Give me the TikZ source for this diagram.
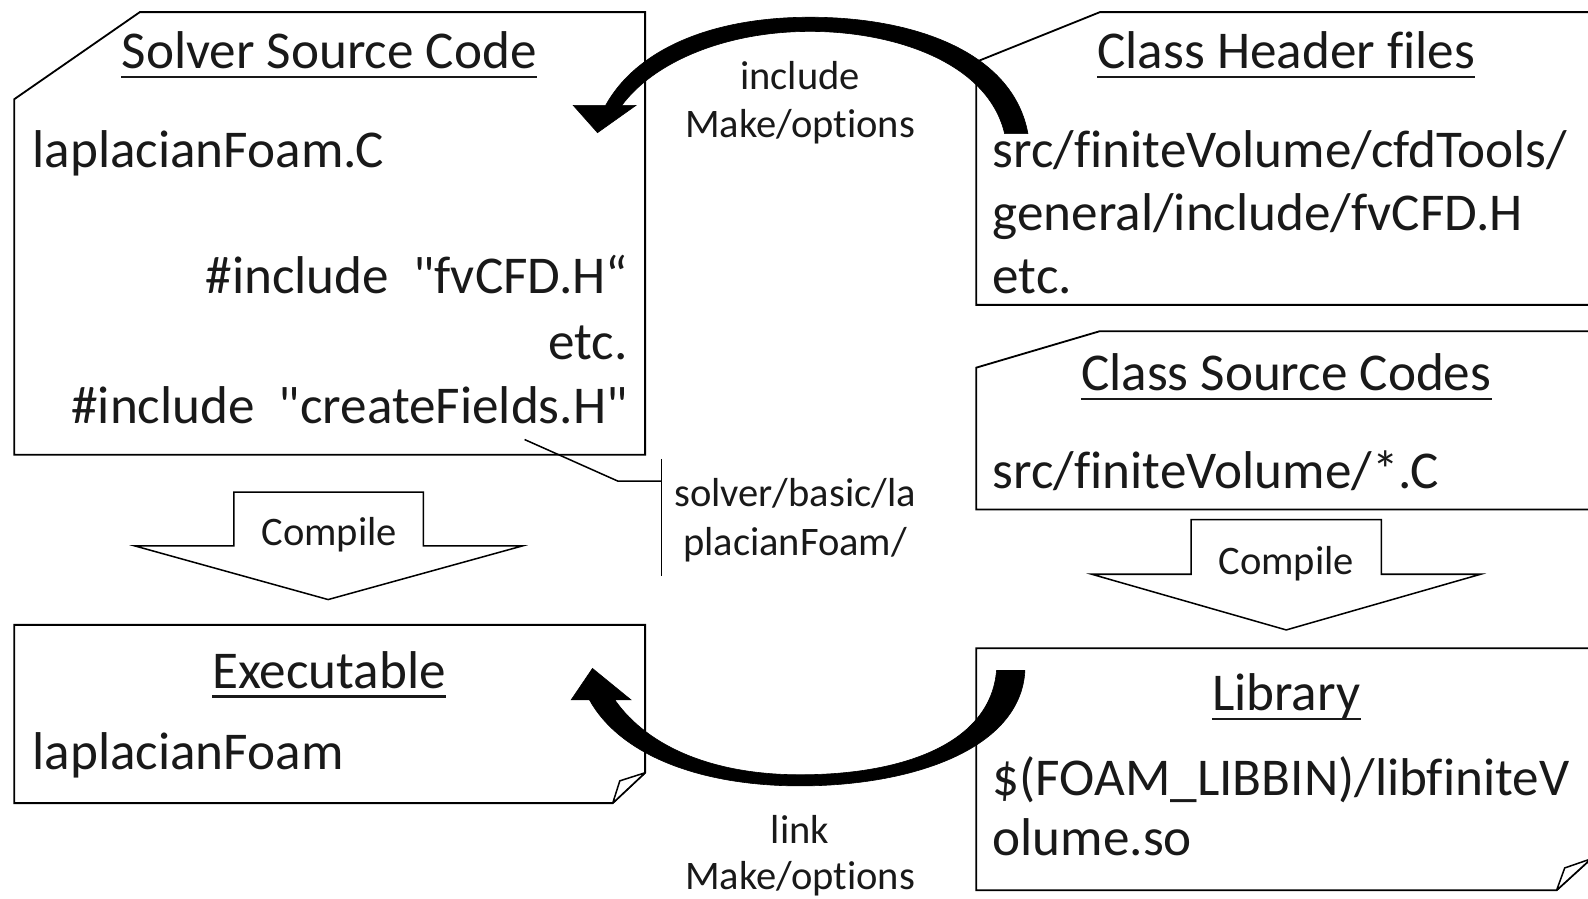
\documentclass[tikz,border=0pt]{standalone}
\usepackage{fontspec}
\newfontfamily\carl{Carlito}[Ligatures={NoCommon}]
\begin{document}
\begin{tikzpicture}[x=1pt,y=-1pt,
  boxline/.style={draw=black, line width=1.8pt, fill=white, line join=miter},
  foldline/.style={draw=black, line width=1.5pt, fill=white, line join=round},
  bigtxt/.style={font=\carl\fontsize{52.5}{60}\selectfont, inner sep=0pt, text=black!90},
  smalltxt/.style={font=\carl\fontsize{40}{48}\selectfont, inner sep=0pt, text=black!90},
  titletxt/.style={bigtxt, anchor=base},
  lefttxt/.style={bigtxt, anchor=base west},
  righttxt/.style={bigtxt, anchor=base east},
  labeltxt/.style={smalltxt, anchor=base},
  uline/.style={line width=2.6pt, black!90},
  blockarrow/.style={draw=black, line width=1.5pt, fill=white, line join=miter},
  curvedarrow/.style={fill=black, draw=black, line width=0.6pt, line join=miter}
]
\useasboundingbox (0,0) rectangle (1568,887);
\clip (0,0) rectangle (1568,887);

% ---------- boxes ----------
\draw[boxline] (138,12) -- (637,12) -- (637,449) -- (14,449) -- (14,98) -- cycle;
\draw[boxline] (1086,12) -- (1600,12) -- (1600,301) -- (964,301) -- (964,61) -- cycle;
\draw[boxline] (1086,327) -- (1600,327) -- (1600,503) -- (964,503) -- (964,363) -- cycle;
\draw[boxline] (14,617) -- (637,617) -- (637,763) -- (605,793) -- (14,793) -- cycle;
\draw[foldline] (605,793) -- (612,771) -- (637,763) -- cycle;
\draw[boxline] (964,640) -- (1571,640) -- (1571,848) -- (1537,879) -- (964,879) -- cycle;
\draw[foldline] (1537,879) -- (1545,857) -- (1571,848) -- cycle;

% ---------- texts: Solver Source Code ----------
\node[titletxt] (tA) at (325,68) {Solver Source Code};
\draw[uline] ([yshift=-8pt]tA.base west) -- ([yshift=-8pt]tA.base east);
\node[lefttxt] (a1) at (32,165) {laplacianFoam.C};
\node[righttxt] (a2) at (620,290) {\#include\ \ "fvCFD.H“};
\node[righttxt] (a3) at (620,355) {etc.};
\node[righttxt] (a4) at (620,418) {\#include\ \ "createFields.H"};

% ---------- Class Header files ----------
\node[titletxt] (tB) at (1270,68) {Class Header files};
\draw[uline] ([yshift=-8pt]tB.base west) -- ([yshift=-8pt]tB.base east);
\node[lefttxt] (b1) at (980,165) {src/finiteVolume/cfdTools/};
\node[lefttxt] (b2) at (980,228) {general/include/fvCFD.H};
\node[lefttxt] (b3) at (980,290) {etc.};

% ---------- Class Source Codes ----------
\node[titletxt] (tC) at (1270,386) {Class Source Codes};
\draw[uline] ([yshift=-8pt]tC.base west) -- ([yshift=-8pt]tC.base east);
\node[lefttxt] (c1) at (980,482) {src/finiteVolume/*.C};

% ---------- Executable ----------
\node[titletxt] (tD) at (325,680) {Executable};
\draw[uline] ([yshift=-8pt]tD.base west) -- ([yshift=-8pt]tD.base east);
\node[lefttxt] (d1) at (32,760) {laplacianFoam};

% ---------- Library ----------
\node[titletxt] (tE) at (1270,702) {Library};
\draw[uline] ([yshift=-8pt]tE.base west) -- ([yshift=-8pt]tE.base east);
\node[lefttxt] (e1) at (980,785) {\$(FOAM\_LIBBIN)/libfiniteV};
\node[lefttxt] (e2) at (980,845) {olume.so};

% ---------- Compile block arrows ----------
\draw[blockarrow] (231,486) -- (418,486) -- (418,539) -- (516,539) -- (324,592)
  -- (133,539) -- (231,539) -- cycle;
\node[labeltxt] (k1) at (325,539) {Compile};
\draw[blockarrow] (1176,513) -- (1364,513) -- (1364,567) -- (1462,567) -- (1270,622)
  -- (1078,567) -- (1176,567) -- cycle;
\node[labeltxt] (k2) at (1270,567) {Compile};

% ---------- callout ----------
\coordinate (cs) at (518,434);
\coordinate (cb) at (610,475);
\coordinate (ch) at (653,475);
\coordinate (vt) at (653,453);
\coordinate (vb) at (653,569);
\draw[line width=1.5pt] (cs) -- (cb) -- (ch);
\draw[line width=1.5pt] (vt) -- (vb);
\node[labeltxt] (p1) at (785,500) {solver/basic/la};
\node[labeltxt] (p2) at (785,548) {placianFoam/};

% ---------- curved arrows ----------
% include (top)
\fill[curvedarrow] (1015,132) .. controls (1000,50) and (900,17) .. (800,17)
  .. controls (700,17) and (628,50) .. (598,104)
  -- (566,104) -- (590,131) -- (628,104) -- (614,104)
  .. controls (645,62) and (715,31) .. (800,31)
  .. controls (880,31) and (975,60) .. (992,132) -- cycle;
\node[labeltxt] (i1) at (790,88) {include};
\node[labeltxt] (i2) at (790,136) {Make/options};

% link (bottom)
\fill[curvedarrow] (1012,662) .. controls (1008,740) and (900,776) .. (790,776)
  .. controls (690,776) and (612,745) .. (582,691)
  -- (564,691) -- (585,660) -- (623,691) -- (607,691)
  .. controls (640,738) and (705,765) .. (790,765)
  .. controls (890,765) and (978,735) .. (984,662) -- cycle;
\node[labeltxt] (l1) at (790,833) {link};
\node[labeltxt] (l2) at (790,878) {Make/options};
\end{tikzpicture}
\end{document}
